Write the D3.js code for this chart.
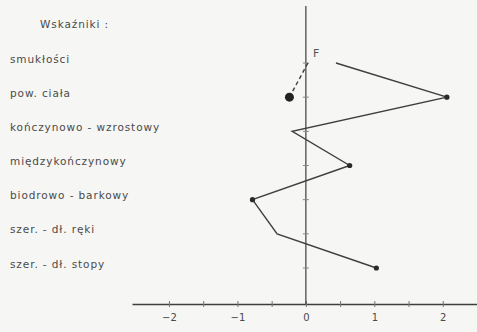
<!DOCTYPE html>
<html>
<head>
<meta charset="utf-8">
<script src="https://cdn.jsdelivr.net/npm/d3@7"></script>
<style>
  body { margin: 0; background: #f6f6f4; }
  svg { display: block; }
  .lbl { font-family: "DejaVu Sans", sans-serif; font-size: 10.5px; fill: #4a4a4a; letter-spacing: 0.9px; }
  .tick text { font-family: "DejaVu Sans", sans-serif; font-size: 10px; fill: #4a4a4a; }
</style>
</head>
<body>
<svg width="477" height="332"></svg>
<script>
const categories = ['smukłości', 'pow. ciała', 'kończynowo - wzrostowy', 'międzykończynowy',
  'biodrowo - barkowy', 'szer. - dł. ręki', 'szer. - dł. stopy'];
const values = [0.44, 2.06, -0.20, 0.64, -0.78, -0.42, 1.03];
const hasDot = [false, true, false, true, true, false, true];
const fCategories = ['smukłości', 'pow. ciała'];
const fValues = [0.03, -0.24];
const xTicks = [-2, -1.5, -1, -0.5, 0, 0.5, 1, 1.5, 2, 2.5];
const xLabels = [-2, -1, 0, 1, 2];

const svg = d3.select('svg');
const ink = '#3e3e3e';

const x = d3.scaleLinear().domain([-2.54, 2.5]).range([132, 477]);
const y = d3.scalePoint().domain(categories).range([63, 268]);
const axisY = 304;

// x axis
const xAxis = d3.axisBottom(x)
  .tickValues(xTicks)
  .tickSize(0)
  .tickPadding(10)
  .tickFormat(d => xLabels.includes(d) ? d3.format('d')(d).replace('-', '−') : '');
const gx = svg.append('g').attr('transform', `translate(0,${axisY})`).call(xAxis);
gx.select('.domain').attr('stroke', ink).attr('stroke-width', 1.3);
gx.selectAll('.tick').append('line')
  .attr('y1', -3).attr('y2', 3).attr('stroke', '#777').attr('stroke-width', 1);

// vertical axis at 0
svg.append('line')
  .attr('x1', x(0)).attr('x2', x(0)).attr('y1', 6).attr('y2', axisY)
  .attr('stroke', ink).attr('stroke-width', 1.2);
svg.selectAll('.ytick').data(categories).enter().append('line')
  .attr('x1', x(0) - 3).attr('x2', x(0) + 3)
  .attr('y1', d => y(d)).attr('y2', d => y(d))
  .attr('stroke', '#888').attr('stroke-width', 1);

// labels
svg.append('text').attr('class', 'lbl')
  .attr('x', 40).attr('y', 25).attr('dominant-baseline', 'middle')
  .text('Wskaźniki :');
svg.selectAll('.cat').data(categories).enter().append('text')
  .attr('class', 'lbl')
  .attr('x', 10).attr('y', d => y(d) - 3.5)
  .attr('dominant-baseline', 'middle')
  .text(d => d);

// main profile
const pts = categories.map((c, i) => [x(values[i]), y(c)]);
svg.append('path')
  .attr('d', d3.line()(pts))
  .attr('fill', 'none').attr('stroke', ink).attr('stroke-width', 1.4);
svg.selectAll('.dot').data(pts.filter((p, i) => hasDot[i])).enter().append('circle')
  .attr('cx', d => d[0]).attr('cy', d => d[1]).attr('r', 2.6).attr('fill', '#2a2a2a');

// F profile
const fPts = fCategories.map((c, i) => [x(fValues[i]), y(c)]);
svg.append('path')
  .attr('d', d3.line()(fPts))
  .attr('fill', 'none').attr('stroke', ink).attr('stroke-width', 1.4)
  .attr('stroke-dasharray', '4,3');
svg.append('circle')
  .attr('cx', fPts[1][0]).attr('cy', fPts[1][1]).attr('r', 4.5).attr('fill', '#222');
svg.append('text')
  .attr('x', fPts[0][0] + 5).attr('y', fPts[0][1] - 6)
  .attr('font-family', 'DejaVu Sans, sans-serif').attr('font-size', 11)
  .attr('fill', '#555').text('F');
</script>
</body>
</html>
